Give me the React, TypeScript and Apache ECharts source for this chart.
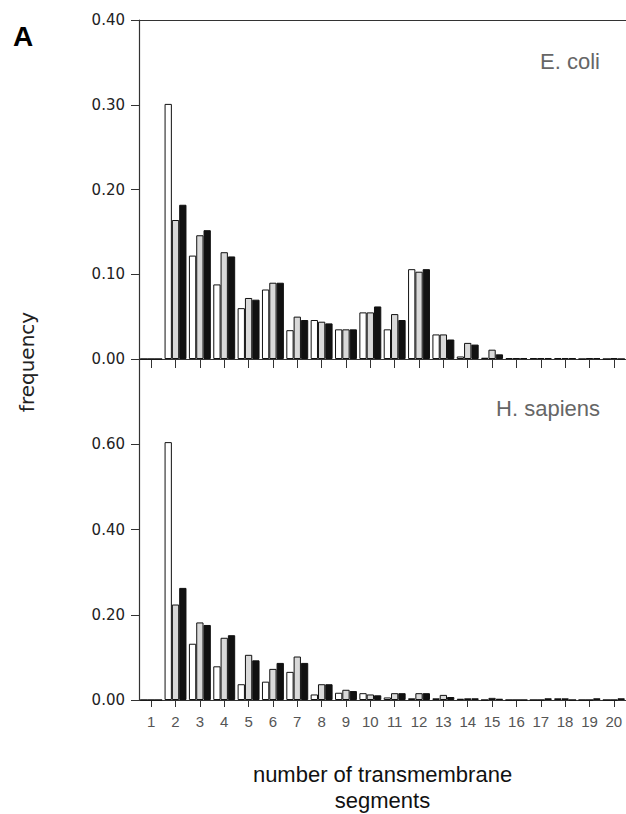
import React, { useEffect, useRef } from "react";
import * as echarts from "echarts";

const categories = ["1","2","3","4","5","6","7","8","9","10","11","12","13","14","15","16","17","18","19","20"];

const ecoliWhite = [0, 0.301, 0.122, 0.088, 0.060, 0.082, 0.034, 0.046, 0.035, 0.055, 0.035, 0.106, 0.029, 0.003, 0.0015, 0.001, 0.001, 0.001, 0, 0];
const ecoliGray = [0, 0.164, 0.146, 0.126, 0.072, 0.090, 0.050, 0.044, 0.035, 0.055, 0.053, 0.103, 0.029, 0.019, 0.011, 0.001, 0.001, 0.001, 0.001, 0.001];
const ecoliBlack = [0, 0.182, 0.152, 0.121, 0.070, 0.090, 0.046, 0.042, 0.035, 0.062, 0.046, 0.106, 0.023, 0.017, 0.0055, 0.001, 0.001, 0.001, 0.001, 0];

const humanWhite = [0, 0.605, 0.132, 0.079, 0.037, 0.043, 0.066, 0.013, 0.017, 0.016, 0.006, 0.004, 0.004, 0.003, 0, 0, 0, 0.004, 0, 0];
const humanGray = [0, 0.224, 0.182, 0.146, 0.106, 0.073, 0.102, 0.037, 0.024, 0.013, 0.016, 0.016, 0.012, 0.004, 0.005, 0, 0, 0.004, 0, 0];
const humanBlack = [0, 0.263, 0.176, 0.152, 0.093, 0.087, 0.087, 0.037, 0.021, 0.011, 0.016, 0.016, 0.007, 0.004, 0.003, 0, 0.004, 0, 0.004, 0.004];

const topTicks = { min: 0, max: 0.4, interval: 0.1 };
const bottomTicks = { min: 0, max: 0.8, interval: 0.2 };

const fills = ["#ffffff", "#d9d9d9", "#111111"];

export default function App() {
  const ref = useRef<HTMLDivElement>(null);
  useEffect(() => {
    if (!ref.current) return;
    const chart = echarts.init(ref.current, null, { renderer: "svg" });
    const axisLine = { show: true, lineStyle: { color: "#333", width: 1.2 } };
    const yLabel = {
      fontFamily: "DejaVu Sans",
      fontSize: 15,
      color: "#222",
      margin: 14,
    };
    const mkBar = (data: number[], i: number, axis: number) => ({
      type: "bar",
      xAxisIndex: axis,
      yAxisIndex: axis,
      data,
      barGap: "0%",
      barCategoryGap: "10%",
      itemStyle: { color: fills[i], borderColor: "#111", borderWidth: 1 },
      silent: true,
    });
    chart.setOption({
      animation: false,
      grid: [
        { left: 139, top: 20, width: 492, height: 339 },
        { left: 139, top: 359, width: 492, height: 341 },
      ],
      xAxis: [
        {
          type: "category",
          gridIndex: 0,
          data: categories,
          position: "bottom",
          axisLine,
          axisTick: { show: true, length: 9, alignWithLabel: true, lineStyle: { color: "#333" } },
          axisLabel: { show: false },
        },
        {
          type: "category",
          gridIndex: 1,
          data: categories,
          position: "bottom",
          axisLine,
          axisTick: { show: true, length: 7, alignWithLabel: true, lineStyle: { color: "#333" } },
          axisLabel: {
            fontFamily: "Liberation Sans",
            fontSize: 15,
            color: "#555",
            margin: 14,
            interval: 0,
          },
          name: "number of transmembrane\nsegments",
          nameLocation: "middle",
          nameGap: 61,
          nameTextStyle: {
            fontFamily: "Liberation Sans",
            fontSize: 22,
            lineHeight: 26,
            color: "#111",
          },
        },
        {
          type: "category",
          gridIndex: 0,
          data: categories,
          position: "top",
          axisLine,
          axisTick: { show: false },
          axisLabel: { show: false },
        },
      ],
      yAxis: [
        {
          type: "value",
          gridIndex: 0,
          ...topTicks,
          axisLine,
          axisTick: { show: true, length: 8, lineStyle: { color: "#333" } },
          splitLine: { show: false },
          axisLabel: { ...yLabel, formatter: (v: number) => v.toFixed(2) },
        },
        {
          type: "value",
          gridIndex: 1,
          ...bottomTicks,
          axisLine,
          axisTick: { show: true, length: 8, lineStyle: { color: "#333" } },
          splitLine: { show: false },
          axisLabel: {
            ...yLabel,
            showMaxLabel: false,
            formatter: (v: number) => (v >= 0.79 ? "" : v.toFixed(2)),
          },
        },
      ],
      series: [
        mkBar(ecoliWhite, 0, 0),
        mkBar(ecoliGray, 1, 0),
        mkBar(ecoliBlack, 2, 0),
        mkBar(humanWhite, 0, 1),
        mkBar(humanGray, 1, 1),
        mkBar(humanBlack, 2, 1),
      ],
      graphic: [
        {
          type: "text",
          left: 13,
          top: 22,
          style: { text: "A", font: "bold 28px 'Liberation Sans'", fill: "#000" },
        },
        {
          type: "text",
          x: 600,
          y: 61,
          style: {
            text: "E. coli",
            font: "22px 'Liberation Sans'",
            fill: "#666",
            align: "right",
            verticalAlign: "middle",
          },
        },
        {
          type: "text",
          x: 600,
          y: 408,
          style: {
            text: "H. sapiens",
            font: "22px 'Liberation Sans'",
            fill: "#666",
            align: "right",
            verticalAlign: "middle",
          },
        },
        {
          type: "text",
          x: 27,
          y: 362,
          rotation: Math.PI / 2,
          style: {
            text: "frequency",
            font: "20px 'DejaVu Sans'",
            fill: "#222",
            align: "center",
            verticalAlign: "middle",
          },
        },
      ],
    });
    return () => chart.dispose();
  }, []);
  return (
    <div
      ref={ref}
      style={{ position: "absolute", left: 0, top: 0, width: 626, height: 814, overflow: "hidden", background: "#fff" }}
    />
  );
}
